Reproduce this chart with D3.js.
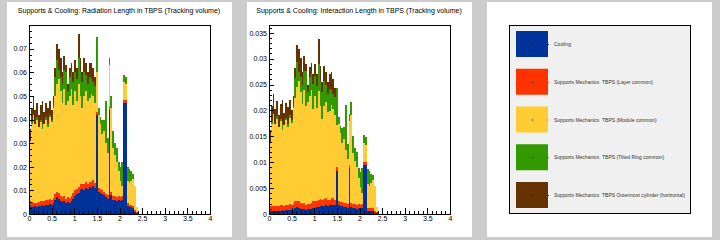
<!DOCTYPE html>
<html>
<head>
<meta charset="utf-8">
<script src="https://cdn.jsdelivr.net/npm/d3@7"></script>
<style>
  body { margin: 0; background: #cccccc; }
  text { font-family: "Liberation Sans", Arial, sans-serif; }
  .entry text { white-space: pre; }
</style>
</head>
<body>
<script>
// histogram bins: 0.04 wide starting at 0, values in units of 1e-3
const binWidth = 0.04

const seriesNames = ['Cooling',
  'Supports Mechanics  TBPS (Layer common)',
  'Supports Mechanics  TBPS (Module common)',
  'Supports Mechanics  TBPS (Tilted Ring common)',
  'Supports Mechanics  TBPS Outermost cylinder (horizontal)']
const seriesColors = ['#003399', '#ff3300', '#ffcc33', '#339900', '#663300']

// radiation length
const radCooling = [3.5,3.0,3.0,3.2,3.0,3.5,3.3,3.8,3.5,4.0,3.8,4.2,4.0,4.5,
  6.0,7.0,6.5,5.5,5.0,5.5,4.5,5.0,4.8,5.5,
  6.5,7.5,8.5,9.0,10.0,10.5,10.0,11.0,10.5,11.5,11.0,12.0,11.0,
  42.0,9.5,9.0,8.5,8.0,7.0,6.5,44.0,8.0,
  6.0,6.0,5.5,6.0,5.5,6.0,47.0,47.0,
  3.5,3.0,3.0,2.5,1.0,0.5]
const radLayer = [1.8,2.0,1.8,1.6,1.8,1.7,2.0,1.8,1.9,1.8,2.0,2.0,1.8,2.2,
  2.5,2.2,2.5,2.0,2.0,2.2,1.8,2.0,2.0,2.0,
  2.5,2.5,2.2,2.5,2.5,2.0,2.5,2.5,2.0,2.0,2.5,2.2,2.0,
  1.2,1.5,1.5,1.5,1.5,1.5,1.5,1.2,1.5,
  1.5,1.5,1.5,1.5,1.5,1.5,1.2,1.2,
  1.0,1.0,1.0,1.0,0.8,0.5]
const radModule = [25.7,33.0,37.2,33.2,35.2,31.8,33.7,30.4,32.6,34.2,31.2,34.8,33.2,38.3,
  41.5,45.8,48.0,44.5,40.0,45.3,39.7,41.0,43.2,45.5,
  37.0,42.0,37.3,43.5,37.5,32.5,37.5,38.5,35.5,35.5,37.5,35.8,34.0,
  16.8,31.0,27.5,24.0,25.5,21.5,18.0,17.8,35.5,
  20.5,17.5,15.0,10.5,7.0,4.5,7.8,6.8,
  9.5,9.0,10.0,11.5,10.2,2.0]
const radTilted = [0,1,0,0,1,0,1,2,0,1,1,1,1,1,
  8,10,4,6,8,8,14,4,8,7,
  10,8,9,11,10,11,10,7,7,9,6,6,7,
  15,3,3,6,5,18,6,3,5,
  7,5,6,4,6,10,3,3,
  6,6,4,2,0,0]
const radCylinder = [5,6,8,6,6,5,6,10,5,6,7,6,4,4,
  4,7,9,8,5,6,3,3,4,4,
  4,5,5,10,6,4,6,5,5,6,7,6,4,
  0,0,0,0,0,0,0,0,0,
  0,0,0,0,0,0,0,0,
  0,0,0,0,0,0]

// interaction length
const intCooling = [0.6,0.5,0.5,0.6,0.5,0.6,0.6,0.7,0.6,0.7,0.7,0.8,0.7,0.8,
  1.1,1.3,1.2,1.0,0.9,1.0,0.8,0.9,0.9,1.0,
  1.1,1.2,1.3,1.4,1.5,1.6,1.5,1.7,1.6,1.7,1.7,1.8,1.7,
  8.4,1.7,1.6,1.5,1.4,1.3,1.2,8.8,1.4,
  1.1,1.1,1.0,1.1,1.0,1.1,9.4,9.4,
  0.6,0.5,0.5,0.5,0.2,0.1]
const intLayer = [1.0,1.1,1.0,0.9,1.0,0.9,1.1,1.0,1.0,1.0,1.1,1.1,1.0,1.2,
  1.4,1.2,1.4,1.1,1.1,1.2,1.0,1.1,1.1,1.1,
  1.4,1.4,1.2,1.4,1.4,1.1,1.4,1.4,1.1,1.1,1.4,1.2,1.1,
  0.7,0.8,0.8,0.8,0.8,0.8,0.8,0.7,0.8,
  0.8,0.8,0.8,0.8,0.8,0.8,0.7,0.7,
  0.6,0.6,0.6,0.6,0.4,0.3]
const intModule = [12.3,15.8,17.9,15.9,16.9,15.3,16.2,14.6,15.6,16.4,15.0,16.7,15.9,18.4,
  19.9,22.0,23.0,21.4,19.2,21.7,19.1,19.7,20.7,21.8,
  17.8,20.2,17.9,20.9,18.0,15.6,18.0,18.5,17.0,17.0,18.0,17.2,16.3,
  8.1,14.9,13.2,11.5,12.2,10.3,8.6,8.5,17.0,
  9.8,8.4,7.2,5.0,3.4,2.2,3.7,3.3,
  4.6,4.3,4.8,5.5,4.9,1.0]
const intTilted = [0,0.5,0,0,0.5,0,0.5,1.0,0,0.5,0.5,0.5,0.5,0.5,
  3.8,4.8,1.9,2.9,3.8,3.8,6.7,1.9,3.8,3.4,
  4.8,3.8,4.3,5.3,4.8,5.3,4.8,3.4,3.4,4.3,2.9,2.9,3.4,
  7.2,1.4,1.4,2.9,2.4,8.6,2.9,1.4,2.4,
  3.4,2.4,2.9,1.9,2.9,4.8,1.4,1.4,
  2.9,2.9,1.9,1.0,0,0]
const intCylinder = [2.4,2.9,3.8,2.9,2.9,2.4,2.9,4.8,2.4,2.9,3.4,2.9,1.9,1.9,
  1.9,3.4,4.3,3.8,2.4,2.9,1.4,1.4,1.9,1.9,
  1.9,2.4,2.4,4.8,2.9,1.9,2.9,2.4,2.4,2.9,3.4,2.9,1.9,
  0,0,0,0,0,0,0,0,0,
  0,0,0,0,0,0,0,0,
  0,0,0,0,0,0]

const xTicks = [0, 0.5, 1, 1.5, 2, 2.5, 3, 3.5, 4]

var width = 720, height = 240
var svg = d3.select('body').append('svg')
  .attr('width', width)
  .attr('height', height)

svg.append('rect').attr('width', width).attr('height', height).attr('fill', '#cccccc')

function drawHist(dx, title, layers, yMax, yStep, yMinorStep) {
  var g = svg.append('g').attr('transform', `translate(${dx},0)`)
  g.append('rect').attr('x', 7).attr('y', 2).attr('width', 225).attr('height', 235).attr('fill', '#fff')

  var x = d3.scaleLinear().domain([0, 4]).range([29, 210])
  var y = d3.scaleLinear().domain([0, yMax]).range([214, 25])

  var table = layers[0].map((_, i) => {
    var row = {bin: i}
    layers.forEach((arr, k) => row[k] = arr[i] / 1000)
    return row
  })
  var stack = d3.stack().keys(layers.map((_, k) => k))(table)

  g.selectAll('g.layer').data(stack).enter()
    .append('g').attr('class', 'layer')
    .attr('fill', (d, k) => seriesColors[k])
    .attr('shape-rendering', 'crispEdges')
    .selectAll('rect').data(d => d.filter(p => p[1] > p[0])).enter()
    .append('rect')
    .attr('x', p => x(p.data.bin * binWidth))
    .attr('width', p => x((p.data.bin + 1) * binWidth) - x(p.data.bin * binWidth))
    .attr('y', p => y(p[1]))
    .attr('height', p => y(p[0]) - y(p[1]))

  var fmt = d3.format('~g')
  var xMinor = d3.range(0, 40.5, 1).map(d => d / 10).filter(d => Math.abs(d * 2 - Math.round(d * 2)) > 1e-6)
  var yMinor = d3.range(0, yMax / yMinorStep).map(d => d * yMinorStep)

  g.append('g').attr('transform', 'translate(0,214)')
    .call(d3.axisBottom(x).tickValues(xMinor).tickSizeInner(-3).tickSizeOuter(0).tickFormat(''))
  g.append('g').attr('transform', 'translate(0,214)')
    .call(d3.axisBottom(x).tickValues(xTicks).tickSizeInner(-6).tickSizeOuter(0).tickPadding(2).tickFormat(fmt))
  g.append('g').attr('transform', 'translate(29,0)')
    .call(d3.axisLeft(y).tickValues(yMinor).tickSizeInner(-3).tickSizeOuter(0).tickFormat(''))
  g.append('g').attr('transform', 'translate(29,0)')
    .call(d3.axisLeft(y).tickValues(d3.range(0, yMax / yStep).map(d => d * yStep)).tickSizeInner(-5).tickSizeOuter(0).tickPadding(2).tickFormat(fmt))

  g.selectAll('.domain').remove()
  g.selectAll('.tick line').attr('stroke', '#000').attr('shape-rendering', 'crispEdges')
  g.selectAll('.tick text').attr('font-size', 7).attr('fill', '#000').attr('font-family', '"Liberation Sans", Arial, sans-serif')

  g.append('rect').attr('x', 29.5).attr('y', 25.5).attr('width', 181).attr('height', 189)
    .attr('fill', 'none').attr('stroke', '#000')

  g.append('text').attr('x', 119).attr('y', 13)
    .attr('text-anchor', 'middle').attr('font-size', 7).attr('fill', '#000')
    .text(title)
}

drawHist(0, 'Supports & Cooling: Radiation Length in TBPS (Tracking volume)',
  [radCooling, radLayer, radModule, radTilted, radCylinder], 0.08, 0.01, 0.0025)
drawHist(240, 'Supports & Cooling: Interaction Length in TBPS (Tracking volume)',
  [intCooling, intLayer, intModule, intTilted, intCylinder], 0.0365, 0.005, 0.001)

// legend panel
var lg = svg.append('g').attr('transform', 'translate(480,0)')
lg.append('rect').attr('x', 7).attr('y', 2).attr('width', 225).attr('height', 235).attr('fill', '#fff')
lg.append('rect').attr('x', 29.5).attr('y', 25.5).attr('width', 181).attr('height', 188)
  .attr('fill', '#f0f0f0').attr('stroke', '#000')

var entryY = d3.scalePoint().domain(d3.range(seriesNames.length)).range([44, 195])
var entries = lg.selectAll('g.entry').data(seriesNames).enter()
  .append('g').attr('class', 'entry')
  .attr('transform', (d, i) => `translate(0,${entryY(i)})`)
entries.append('rect').attr('x', 36).attr('y', -13).attr('width', 32).attr('height', 26)
  .attr('fill', (d, i) => seriesColors[i])
entries.append('rect').attr('x', 52).attr('y', 0).attr('width', 1).attr('height', 1).attr('fill', '#000')
entries.append('rect').attr('x', 68).attr('y', 0).attr('width', 1).attr('height', 1)
  .attr('fill', (d, i) => seriesColors[i])
entries.append('text').attr('x', 74).attr('y', 2)
  .attr('font-size', 5).attr('fill', '#333')
  .text(d => d)
</script>
</body>
</html>
